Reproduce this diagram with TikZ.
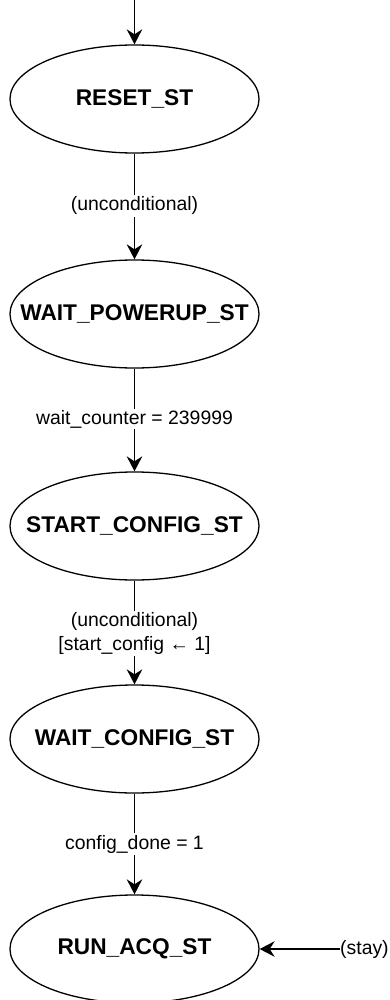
\documentclass[tikz,border=0pt]{standalone}
\usepackage{fontspec}
\setmainfont{Liberation Sans}
\usetikzlibrary{shapes.geometric,arrows.meta}
\tikzset{
  state/.style={ellipse, draw=black, line width=1.3pt, fill=white,
    minimum width=249pt, minimum height=108pt,
    inner xsep=-50pt, inner ysep=0pt,
    font=\fontsize{22.7}{26}\selectfont\bfseries},
  trans/.style={draw=black, line width=1.3pt,
    -{Stealth[length=15pt,width=15.5pt,inset=5pt]}},
  guard/.style={fill=white, inner sep=1.5pt, align=center,
    font=\fontsize{19.4}{23.3}\selectfont}
}
\begin{document}
\begin{tikzpicture}[x=1pt,y=-1pt]
  \path[fill=white] (0,0) rectangle (389,1000);
  \useasboundingbox (0,0) rectangle (389,1000);

  % states
  \node[state] (reset)  at (134.5,99)  {RESET\_ST};
  \node[state] (wpu)    at (134.5,314) {WAIT\_POWERUP\_ST};
  \node[state] (scfg)   at (134.5,526) {START\_CONFIG\_ST};
  \node[state] (wcfg)   at (134.5,739) {WAIT\_CONFIG\_ST};
  \node[state] (run)    at (134.5,949) {RUN\_ACQ\_ST};

  % entry point
  \coordinate (entry) at (134.5,0);
  \draw[trans] (entry) -- (reset.north);

  % transitions
  \draw[trans] (reset.south) -- (wpu.north)
    node[guard, pos=0.495] {(unconditional)};
  \draw[trans] (wpu.south) -- (scfg.north)
    node[guard, pos=0.49] {wait\_counter = 239999};
  \draw[trans] (scfg.south) -- (wcfg.north)
    node[guard, pos=0.51] {(unconditional)\\{}[start\_config ← 1]};
  \draw[trans] (wcfg.south) -- (run.north)
    node[guard, pos=0.50] {config\_done = 1};

  % self-hold annotation
  \node[anchor=west, inner sep=0pt, font=\fontsize{19.4}{23.3}\selectfont] (stay) at (340,949) {(stay)};
  \draw[trans] (stay.west) -- (run.east);
\end{tikzpicture}
\end{document}
